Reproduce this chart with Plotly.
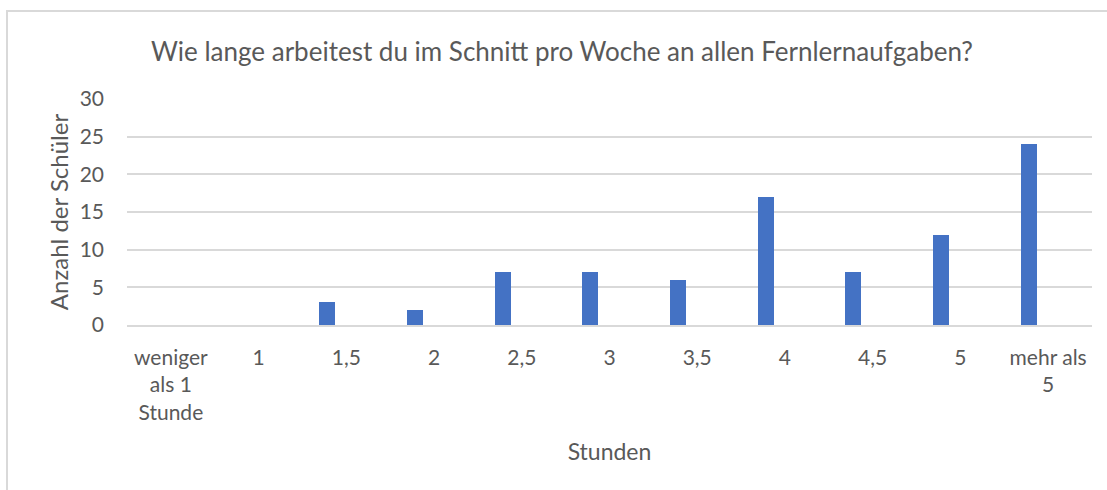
import plotly.graph_objects as go

categories = ["weniger als 1 Stunde", "1", "1,5", "2", "2,5", "3", "3,5", "4", "4,5", "5", "mehr als 5"]
tick_labels = ["weniger<br>als 1<br>Stunde", "1", "1,5", "2", "2,5", "3", "3,5", "4", "4,5", "5", "mehr als<br>5"]
values = [0, 0, 3, 2, 7, 7, 6, 17, 7, 12, 24]
y_ticks = [0, 5, 10, 15, 20, 25, 30]

TXT = "#595959"
GRID = "#D9D9D9"
FONT = "Lato"

W, H = 1107, 490
ml, mr, mt, mb = 127, 15, 99, 165
pw, ph = W - ml - mr, H - mt - mb

fig = go.Figure()
fig.add_trace(go.Bar(
    x=categories, y=values,
    marker=dict(color="#4472C4", line=dict(width=0)),
    width=0.182, offset=-0.31,
    hoverinfo="x+y",
))

def px_to_paper_x(px):
    return (px - ml) / pw

def px_to_paper_y(py):
    return (H - mb - py) / ph

fig.add_shape(type="rect", xref="paper", yref="paper",
              x0=px_to_paper_x(7), x1=px_to_paper_x(W + 10),
              y0=px_to_paper_y(H + 10), y1=px_to_paper_y(11),
              line=dict(color=GRID, width=2), fillcolor="rgba(0,0,0,0)", layer="below")

fig.update_layout(
    width=W, height=H,
    margin=dict(l=ml, r=mr, t=mt, b=mb, autoexpand=False),
    paper_bgcolor="white", plot_bgcolor="white",
    font=dict(family=FONT, color=TXT, size=21),
    showlegend=False,
    title=dict(text="Wie lange arbeitest du im Schnitt pro Woche an allen Fernlernaufgaben?",
               x=562 / W, xanchor="center", xref="container",
               y=1 - 52 / H, yanchor="middle", yref="container",
               font=dict(family=FONT, size=26, color=TXT)),
    xaxis=dict(
        type="category", automargin=False,
        tickmode="array", tickvals=categories, ticktext=tick_labels,
        showgrid=False, showline=True, linecolor=GRID, linewidth=1.5,
        ticks="", tickfont=dict(size=21, color=TXT),
        ticklabelstandoff=13,
        range=[-0.5, len(categories) - 0.5],
        title=dict(text="Stunden", font=dict(size=23, color=TXT), standoff=21),
    ),
    yaxis=dict(
        automargin=False,
        range=[0, 30], tickmode="array", tickvals=y_ticks,
        showgrid=True, gridcolor=GRID, gridwidth=1.5,
        zeroline=False, showline=False, ticks="",
        tickfont=dict(size=21, color=TXT),
        ticklabelstandoff=22,
        title=dict(text="Anzahl der Schüler", font=dict(size=24, color=TXT), standoff=4),
    ),
    bargap=0,
)

fig.write_html("out.html", config={"displayModeBar": False},
               post_script="document.body.style.margin='0';")
